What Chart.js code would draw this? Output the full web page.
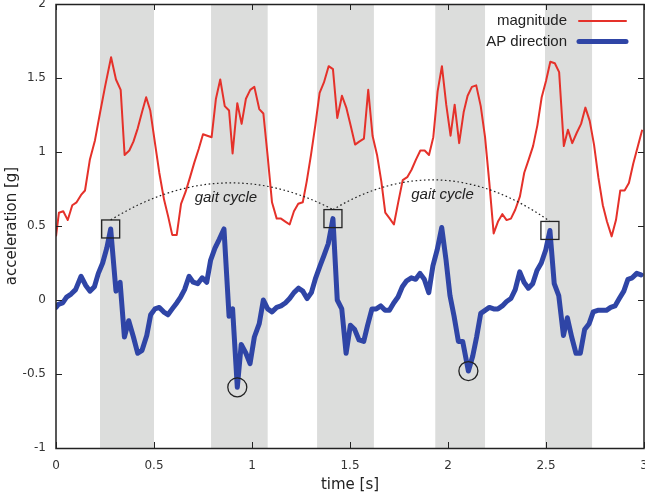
<!DOCTYPE html>
<html>
<head>
<meta charset="utf-8">
<script src="https://cdn.jsdelivr.net/npm/chart.js@4/dist/chart.umd.min.js"></script>
<style>
  html, body { margin: 0; padding: 0; background: #fff; }
  #wrap { width: 645px; height: 499px; position: relative; }
</style>
</head>
<body>
<div id="wrap"><canvas id="c" width="645" height="499"></canvas></div>
<script>
// ---- data ----
const magTime = [0.0,0.015,0.037,0.06,0.083,0.105,0.128,0.148,0.173,0.199,0.224,0.25,0.281,0.306,0.33,0.35,0.374,0.395,0.417,0.439,0.46,0.481,0.505,0.527,0.551,0.573,0.593,0.616,0.638,0.661,0.684,0.706,0.728,0.75,0.772,0.794,0.816,0.838,0.861,0.883,0.901,0.925,0.947,0.969,0.991,1.012,1.037,1.058,1.08,1.102,1.126,1.148,1.17,1.192,1.214,1.236,1.259,1.279,1.301,1.323,1.345,1.367,1.391,1.413,1.435,1.459,1.481,1.503,1.526,1.547,1.571,1.593,1.615,1.638,1.66,1.68,1.703,1.724,1.746,1.769,1.792,1.814,1.837,1.859,1.881,1.903,1.925,1.947,1.969,1.991,2.013,2.034,2.057,2.08,2.1,2.122,2.144,2.167,2.189,2.211,2.233,2.255,2.277,2.299,2.321,2.343,2.367,2.389,2.412,2.434,2.456,2.478,2.5,2.522,2.545,2.567,2.591,2.612,2.634,2.657,2.679,2.701,2.723,2.745,2.767,2.79,2.811,2.835,2.857,2.879,2.901,2.923,2.945,2.969,2.991];
const magnitude = [0.43,0.59,0.60,0.54,0.64,0.66,0.71,0.74,0.95,1.08,1.26,1.44,1.64,1.49,1.42,0.98,1.01,1.07,1.16,1.27,1.37,1.28,1.06,0.86,0.68,0.56,0.44,0.44,0.65,0.73,0.83,0.93,1.02,1.12,1.11,1.10,1.36,1.49,1.31,1.28,0.99,1.33,1.19,1.36,1.42,1.44,1.29,1.26,0.97,0.66,0.55,0.55,0.53,0.51,0.60,0.65,0.66,0.80,0.98,1.18,1.40,1.47,1.58,1.56,1.23,1.38,1.30,1.18,1.05,1.07,1.09,1.42,1.11,0.98,0.80,0.59,0.55,0.51,0.66,0.81,0.83,0.88,0.95,1.01,1.01,0.98,1.10,1.41,1.58,1.32,1.11,1.32,1.06,1.27,1.38,1.44,1.45,1.31,1.10,0.79,0.45,0.53,0.58,0.54,0.55,0.61,0.70,0.86,0.95,1.04,1.18,1.37,1.48,1.61,1.60,1.54,1.04,1.15,1.06,1.13,1.19,1.30,1.21,1.05,0.83,0.64,0.53,0.43,0.54,0.74,0.74,0.79,0.92,1.04,1.15];

const apTime = [0.0,0.012,0.034,0.054,0.077,0.1,0.128,0.151,0.173,0.196,0.216,0.238,0.259,0.279,0.306,0.327,0.349,0.371,0.395,0.417,0.439,0.463,0.483,0.505,0.527,0.549,0.571,0.593,0.616,0.636,0.656,0.679,0.7,0.723,0.746,0.769,0.789,0.811,0.833,0.857,0.883,0.901,0.925,0.945,0.969,0.99,1.012,1.037,1.058,1.08,1.102,1.126,1.148,1.17,1.192,1.214,1.238,1.259,1.281,1.303,1.325,1.347,1.367,1.389,1.413,1.435,1.458,1.48,1.502,1.524,1.546,1.57,1.59,1.612,1.634,1.657,1.679,1.701,1.723,1.745,1.767,1.789,1.813,1.835,1.857,1.879,1.902,1.923,1.945,1.968,1.99,2.01,2.031,2.053,2.075,2.104,2.126,2.146,2.167,2.189,2.211,2.233,2.255,2.277,2.299,2.321,2.343,2.366,2.388,2.41,2.432,2.454,2.476,2.499,2.52,2.542,2.565,2.589,2.609,2.631,2.653,2.675,2.697,2.72,2.741,2.764,2.786,2.808,2.83,2.852,2.874,2.897,2.918,2.94,2.963,2.985];
const apDirection = [-0.05,-0.03,-0.02,0.02,0.04,0.07,0.16,0.10,0.06,0.09,0.18,0.25,0.35,0.48,0.06,0.12,-0.25,-0.14,-0.25,-0.36,-0.34,-0.24,-0.10,-0.06,-0.05,-0.08,-0.10,-0.06,-0.02,0.02,0.07,0.16,0.12,0.11,0.15,0.12,0.27,0.35,0.41,0.48,-0.11,-0.06,-0.59,-0.30,-0.36,-0.43,-0.25,-0.16,0.0,-0.06,-0.08,-0.05,-0.04,-0.02,0.01,0.05,0.08,0.06,0.01,0.05,0.15,0.23,0.30,0.38,0.55,0.0,-0.06,-0.36,-0.17,-0.20,-0.27,-0.28,-0.17,-0.06,-0.06,-0.04,-0.07,-0.07,-0.02,0.02,0.09,0.13,0.15,0.14,0.18,0.14,0.05,0.23,0.34,0.49,0.27,0.03,-0.11,-0.28,-0.28,-0.48,-0.38,-0.25,-0.09,-0.07,-0.05,-0.06,-0.06,-0.04,-0.01,0.01,0.07,0.19,0.12,0.08,0.11,0.20,0.25,0.34,0.47,0.11,0.03,-0.24,-0.12,-0.25,-0.36,-0.36,-0.20,-0.16,-0.08,-0.07,-0.07,-0.07,-0.05,-0.04,0.01,0.06,0.14,0.15,0.18,0.17];

// shaded stance phases [start, end] in seconds
const bandStart = [0.2245, 0.791, 1.332, 1.935, 2.495];
const bandEnd   = [0.500, 1.080, 1.622, 2.189, 2.735];

// annotation anchors (data units)
const peakTime = [0.279, 1.413, 2.520];
const peakValue = [0.48, 0.55, 0.47];
const troughTime = [0.925, 2.104];
const troughValue = [-0.59, -0.48];
const cycleApex = [0.79, 0.81];
const cycleLabelTime = [0.867, 1.972];
const cycleLabelValue = [0.69, 0.71];
const cycleLabel = 'gait cycle';

const xTicks = [0, 0.5, 1, 1.5, 2, 2.5, 3];
const yTicks = [-1, -0.5, 0, 0.5, 1, 1.5, 2];

const seriesNames = ['magnitude', 'AP direction'];
const RED = '#e5312a';
const BLUE = '#2f45a6';
const FRAME = '#222222';

const pts = (xs, ys) => xs.map((x, i) => ({ x: x, y: ys[i] }));
const fmt = v => String(Math.round(v * 100) / 100);

const bandsPlugin = {
  id: 'bands',
  beforeDatasetsDraw(chart) {
    const { ctx, chartArea: a, scales: { x } } = chart;
    ctx.save();
    ctx.fillStyle = '#dcdddc';
    bandStart.forEach((s, i) => {
      const x0 = x.getPixelForValue(s), x1 = x.getPixelForValue(bandEnd[i]);
      ctx.fillRect(x0, a.top, x1 - x0, a.bottom - a.top + 1);
    });
    ctx.restore();
  }
};

const framePlugin = {
  id: 'frame',
  afterDatasetsDraw(chart) {
    const { ctx, chartArea: a, scales: { x, y } } = chart;
    ctx.save();
    // annotations
    ctx.strokeStyle = FRAME;
    ctx.lineWidth = 1.3;
    const half = 9;
    const sq = peakTime.map((t, i) => [x.getPixelForValue(t), y.getPixelForValue(peakValue[i])]);
    sq.forEach(([px, py]) => ctx.strokeRect(px - half, py - half, 2 * half, 2 * half));
    troughTime.forEach((t, i) => {
      ctx.beginPath();
      ctx.arc(x.getPixelForValue(t), y.getPixelForValue(troughValue[i]), 9.5, 0, Math.PI * 2);
      ctx.stroke();
    });
    // dotted gait cycle arcs
    ctx.setLineDash([1.6, 2.6]);
    ctx.lineWidth = 1.2;
    for (let i = 0; i < sq.length - 1; i++) {
      const x0 = sq[i][0], y0 = sq[i][1] - half;
      const x2 = sq[i + 1][0], y2 = sq[i + 1][1] - half;
      const apex = y.getPixelForValue(cycleApex[i]);
      const yc = 2 * apex - (y0 + y2) / 2;
      ctx.beginPath();
      ctx.moveTo(x0, y0);
      ctx.quadraticCurveTo((x0 + x2) / 2, yc, x2, y2);
      ctx.stroke();
    }
    ctx.setLineDash([]);
    ctx.fillStyle = '#222';
    ctx.font = 'italic 15px "Liberation Sans", Arial, sans-serif';
    ctx.textAlign = 'center';
    ctx.textBaseline = 'middle';
    cycleLabelTime.forEach((t, i) => {
      ctx.fillText(cycleLabel, x.getPixelForValue(t), y.getPixelForValue(cycleLabelValue[i]));
    });

    // frame + inward ticks
    ctx.strokeStyle = FRAME;
    ctx.lineWidth = 1.5;
    ctx.strokeRect(a.left, a.top + 0.5, a.right - a.left, a.bottom - a.top);
    ctx.lineWidth = 1;
    const tl = 6;
    ctx.beginPath();
    xTicks.forEach(v => {
      const px = Math.round(x.getPixelForValue(v)) + 0.5;
      ctx.moveTo(px, a.bottom); ctx.lineTo(px, a.bottom - tl);
      ctx.moveTo(px, a.top); ctx.lineTo(px, a.top + tl);
    });
    yTicks.forEach(v => {
      const py = Math.round(y.getPixelForValue(v)) + 0.5;
      ctx.moveTo(a.left, py); ctx.lineTo(a.left + tl, py);
      ctx.moveTo(a.right, py); ctx.lineTo(a.right - tl, py);
    });
    ctx.stroke();

    // legend (top right, text right-aligned, sample on the right)
    ctx.font = '15px "Liberation Sans", Arial, sans-serif';
    ctx.textAlign = 'right';
    ctx.textBaseline = 'middle';
    chart.data.datasets.forEach((ds, i) => {
      const ly = 21 + i * 20.5;
      ctx.fillStyle = '#222';
      ctx.fillText(ds.label, 567, ly);
      ctx.strokeStyle = ds.borderColor;
      ctx.lineWidth = ds.borderWidth;
      ctx.lineCap = 'round';
      ctx.beginPath();
      ctx.moveTo(579, ly); ctx.lineTo(626, ly);
      ctx.stroke();
    });
    ctx.restore();
  }
};

new Chart(document.getElementById('c'), {
  type: 'line',
  data: {
    datasets: [
      { label: seriesNames[0], data: pts(magTime, magnitude), borderColor: RED, borderWidth: 2,
        pointRadius: 0, tension: 0, borderJoinStyle: 'round', order: 1 },
      { label: seriesNames[1], data: pts(apTime, apDirection), borderColor: BLUE, borderWidth: 5,
        pointRadius: 0, tension: 0, borderJoinStyle: 'round', borderCapStyle: 'round', order: 0 }
    ]
  },
  options: {
    responsive: false,
    animation: false,
    events: [],
    layout: { padding: { top: 4, right: 1, left: 0, bottom: 0 } },
    plugins: { legend: { display: false }, tooltip: { enabled: false } },
    scales: {
      x: {
        type: 'linear', min: 0, max: 3,
        afterBuildTicks: s => { s.ticks = xTicks.map(v => ({ value: v })); },
        ticks: { autoSkip: false, maxRotation: 0, padding: 11, color: '#333', callback: fmt,
                 font: { family: '"DejaVu Sans", sans-serif', size: 12 } },
        grid: { display: false, drawTicks: false },
        border: { display: false },
        title: { display: true, text: 'time [s]', color: '#222', padding: { top: 0, bottom: 5 },
                 font: { family: '"DejaVu Sans", sans-serif', size: 15 } },
        afterFit: s => { s.height = 51; s.paddingLeft = 0; s.paddingRight = 0; }
      },
      y: {
        type: 'linear', min: -1, max: 2,
        afterBuildTicks: s => { s.ticks = yTicks.map(v => ({ value: v })); },
        ticks: { padding: 10, color: '#333', callback: fmt,
                 font: { family: '"DejaVu Sans", sans-serif', size: 12 } },
        grid: { display: false, drawTicks: false },
        border: { display: false },
        title: { display: true, text: 'acceleration [g]', color: '#222', padding: { top: 3, bottom: 0 },
                 font: { family: '"DejaVu Sans", sans-serif', size: 15 } },
        afterFit: s => { s.width = 56; s.paddingTop = 0; s.paddingBottom = 0; }
      }
    }
  },
  plugins: [bandsPlugin, framePlugin]
});
</script>
</body>
</html>
